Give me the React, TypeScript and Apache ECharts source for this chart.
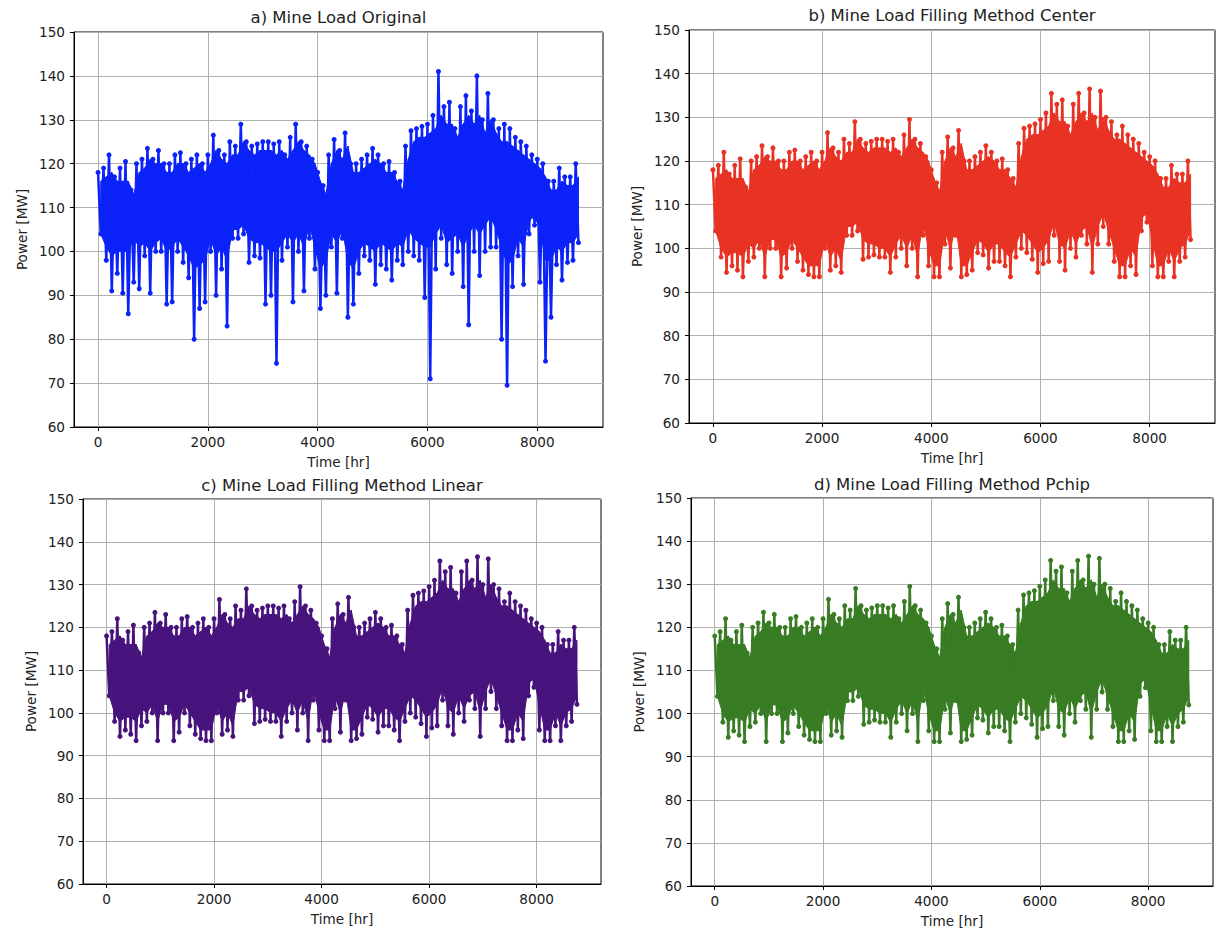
import React, { useEffect, useRef } from "react";
import * as echarts from "echarts";

// Time bins (hours). For every 100 h bin four readings are kept:
// the highest spike, the top of the solid body, the bottom of the solid body and the lowest spike.
const binStep = 100;

// a) original load, highest / lowest reading per bin (0..8700 h)
const originalHigh = [
  118, 119, 122, 117, 119, 120.5, 114, 120, 121, 123.5,
  121, 123, 120, 120, 122, 122.5, 120, 121, 122, 120,
  122, 126.5, 123, 122, 125, 124, 129, 125, 124, 124.5,
  125, 125, 124.5, 125, 122, 126, 129, 125, 124, 121,
  118, 115, 122, 125.5, 123, 127, 120, 120, 121, 122,
  123.5, 122, 120, 120.5, 118, 116, 124, 127.5, 128, 128.5,
  129, 131, 141, 133, 134, 128, 133, 135.5, 132, 140,
  130, 136, 130, 128, 129, 128, 126, 125, 124, 122,
  121, 120, 116, 116, 119, 117, 117, 120,
];
const originalLow = [
  104, 98, 91, 95, 90.5, 85.8, 93, 91.5, 99, 90.5,
  100, 100, 88, 88.5, 100, 97.5, 94, 80, 87, 88.5,
  100, 90, 96, 83, 103, 103, 104, 97.5, 99, 98.5,
  88, 90, 74.5, 98, 101, 88.5, 100, 91, 103, 96,
  87, 90, 101, 90.5, 103, 85, 88, 95, 99, 98,
  92.5, 97, 96, 93.5, 98, 97, 100, 99, 98, 89.5,
  71, 96, 103, 97, 95, 100, 92, 83.3, 100, 94.5,
  100, 101, 101, 80, 69.5, 92, 99, 92.5, 104, 106,
  93, 75, 85, 97, 93.5, 97.5, 98, 102,
];
const originalBodyBottom = [
  104, 101, 99, 100, 100, 100, 103, 101, 102, 100,
  102, 103, 100, 101, 103, 101, 99, 96, 97, 98,
  103, 99, 101, 98, 105, 105, 106, 103, 102, 102,
  101, 100, 100, 102, 104, 102, 104, 101, 106, 101,
  96, 98, 104, 102, 105, 98, 96, 100, 102, 101,
  100, 102, 101, 100, 102, 101, 105, 103, 102, 101,
  101, 104, 106, 102, 103, 104, 101, 104, 106, 104,
  106, 108, 105, 101, 97, 98, 103, 101, 107, 108,
  105, 98, 98, 101, 100, 102, 102, 104,
];

// b), c), d) filled load (the three filling methods look the same at this scale)
const filledHigh = [
  118, 119, 122, 117, 119, 120.5, 114, 120, 121, 123.5,
  121, 123, 120, 120, 122, 122.5, 120, 121, 122, 120,
  122, 126.5, 123, 122, 125, 124, 129, 125, 124, 124.5,
  125, 125, 124.5, 125, 122, 126, 129.5, 125, 124, 121,
  118, 115, 122, 125.5, 123, 127, 120, 120, 121, 122,
  123.5, 122, 120, 120.5, 118, 116, 124, 127.5, 128, 128.5,
  129.5, 131, 135.5, 133, 134, 128, 133, 135.5, 131, 136.5,
  130, 136, 130, 129, 126, 128, 126, 125, 124, 122,
  121, 120, 116, 116, 119, 117, 117, 120,
];
const filledLow = [
  104, 98, 94.5, 96, 95, 93.5, 97, 98, 100, 93.5,
  100, 100, 93.5, 95.5, 100, 97, 95, 94, 93.5, 93.5,
  100, 95, 96, 94.5, 103, 103, 104, 97.5, 98, 98.5,
  98, 98, 94.5, 98, 100, 96, 100, 93.5, 103, 96,
  93.5, 93.5, 101, 95.5, 103, 93.5, 94, 95, 99, 98.5,
  95.5, 97, 97, 96, 93.5, 98, 100, 99, 97.5, 94.5,
  96.5, 97, 103, 97, 95, 100, 98, 103, 101, 94.5,
  101, 105, 101, 97, 93.5, 93.5, 96, 94, 104, 106,
  96, 93.5, 93.5, 97, 93.5, 97, 98, 102,
];
const filledBodyBottom = [
  104, 100, 98, 99, 99, 98, 101, 100, 102, 98,
  102, 102, 98, 99, 102, 100, 98, 96, 96, 96,
  102, 98, 100, 97, 105, 105, 106, 102, 101, 101,
  100, 100, 98, 101, 103, 100, 103, 98, 106, 100,
  96, 96, 104, 100, 105, 96, 96, 99, 102, 101,
  99, 101, 101, 99, 98, 101, 104, 103, 101, 99,
  100, 102, 106, 101, 100, 104, 101, 104, 105, 100,
  105, 108, 104, 100, 96, 96, 100, 98, 107, 108,
  102, 96, 96, 100, 97, 100, 101, 104,
];

// top of the solid body of the trace (same in all four panels)
const bodyTop = [
  116, 117, 118, 116, 116, 116, 113, 118, 119, 121,
  120, 120, 118, 118, 120, 120, 118, 119, 120, 118,
  120, 123, 121, 120, 122, 122, 125, 123, 122, 123,
  123, 123, 122, 123, 121, 123, 125, 123, 122, 120,
  116, 113, 120, 123, 121, 124, 118, 118, 119, 120,
  121, 120, 118, 118, 116, 114, 121, 125, 126, 126,
  127, 128, 131, 129, 129, 126, 129, 131, 129, 131,
  127, 130, 127, 125, 125, 124, 123, 122, 121, 120,
  119, 117, 114, 114, 116, 115, 115, 117,
];

const xTicks = [0, 2000, 4000, 6000, 8000];
const yMin = 60;
const yMax = 150;
const yStep = 10;

const panelTitles = [
  "a) Mine Load Original",
  "b) Mine Load Filling Method Center",
  "c) Mine Load Filling Method Linear",
  "d) Mine Load Filling Method Pchip",
];
const panelColors = ["#0b22f8", "#e83324", "#47137c", "#387c23"];

const FONT = "DejaVu Sans, Verdana, sans-serif";
const TXT = "#222222";

const grids = [
  { left: 74, top: 32, width: 529, height: 395 },
  { left: 689, top: 30, width: 526, height: 393 },
  { left: 83, top: 499, width: 518, height: 385 },
  { left: 691, top: 498, width: 522, height: 388 },
];
const titlePos = [
  [338.5, 17],
  [952, 15],
  [342, 485],
  [952, 484],
];

function zigzag(hi: number[], lo: number[]) {
  const out: number[][] = [];
  hi.forEach((h, i) => {
    out.push([i * binStep, h]);
    out.push([i * binStep + binStep / 2, lo[i]]);
  });
  return out;
}

// one trapezoid per pair of neighbouring bins: [x0, bottom0, top0, x1, bottom1, top1]
function bodyPieces(bottom: number[]) {
  const out: number[][] = [];
  for (let i = 0; i < bodyTop.length - 1; i++) {
    const x0 = i * binStep + binStep / 2;
    const x1 = x0 + binStep;
    out.push([x0, bottom[i], bodyTop[i], x1, bottom[i + 1], bodyTop[i + 1]]);
  }
  return out;
}

export default function App() {
  const ref = useRef<HTMLDivElement>(null);
  useEffect(() => {
    document.body.style.margin = "0";
    const chart = echarts.init(ref.current!, null, { renderer: "svg" });
    const panels = [
      { spikes: zigzag(originalHigh, originalLow), body: bodyPieces(originalBodyBottom) },
      { spikes: zigzag(filledHigh, filledLow), body: bodyPieces(filledBodyBottom) },
      { spikes: zigzag(filledHigh, filledLow), body: bodyPieces(filledBodyBottom) },
      { spikes: zigzag(filledHigh, filledLow), body: bodyPieces(filledBodyBottom) },
    ];
    const xMax = 8759;
    const pad = xMax * 0.05;
    const series: any[] = [];
    panels.forEach((p, i) => {
      const color = panelColors[i];
      series.push({
        type: "custom",
        xAxisIndex: i,
        yAxisIndex: i,
        data: p.body,
        silent: true,
        clip: true,
        encode: { x: [0, 3], y: [1, 2, 4, 5] },
        renderItem: (params: any, api: any) => {
          const a = api.coord([api.value(0), api.value(2)]);
          const b = api.coord([api.value(3), api.value(5)]);
          const c = api.coord([api.value(3), api.value(4)]);
          const e = api.coord([api.value(0), api.value(1)]);
          return {
            type: "polygon",
            shape: { points: [a, b, c, e] },
            style: { fill: color, stroke: color, lineWidth: 1 },
          };
        },
        z: 2,
      });
      series.push({
        type: "line",
        xAxisIndex: i,
        yAxisIndex: i,
        data: p.spikes,
        symbol: "circle",
        symbolSize: 5,
        showSymbol: true,
        silent: true,
        lineStyle: { color, width: 2.5 },
        itemStyle: { color },
        z: 3,
      });
    });
    const option: any = {
      animation: false,
      backgroundColor: "#ffffff",
      grid: grids.map((g) => ({
        ...g,
        show: true,
        borderColor: "#000000",
        borderWidth: 1,
        backgroundColor: "transparent",
        containLabel: false,
      })),
      xAxis: grids.map((_, i) => ({
        type: "value",
        gridIndex: i,
        min: -pad,
        max: xMax + pad,
        axisLine: { show: true, onZero: false, lineStyle: { color: "#000", width: 1 } },
        axisTick: { show: true, inside: false, length: 4, customValues: xTicks, lineStyle: { color: "#000" } },
        axisLabel: {
          customValues: xTicks,
          formatter: (v: number) => String(v),
          color: TXT,
          fontSize: 13.6,
          fontFamily: FONT,
          margin: 8,
        },
        splitLine: { show: true, lineStyle: { color: "#b0b0b0", width: 1 } },
        name: "Time [hr]",
        nameLocation: "middle",
        nameGap: 28,
        nameTextStyle: { color: TXT, fontSize: 13.6, fontFamily: FONT },
      })),
      yAxis: grids.map((_, i) => ({
        type: "value",
        gridIndex: i,
        min: yMin,
        max: yMax,
        interval: yStep,
        axisLine: { show: true, onZero: false, lineStyle: { color: "#000", width: 1 } },
        axisTick: { show: true, inside: false, length: 4, lineStyle: { color: "#000" } },
        axisLabel: { color: TXT, fontSize: 13.6, fontFamily: FONT, margin: 9 },
        splitLine: { show: true, lineStyle: { color: "#b0b0b0", width: 1 } },
        name: "Power [MW]",
        nameLocation: "middle",
        nameGap: 45,
        nameTextStyle: { color: TXT, fontSize: 13.6, fontFamily: FONT },
      })),
      series,
      graphic: panelTitles.map((t, i) => ({
        type: "text",
        x: titlePos[i][0],
        y: titlePos[i][1],
        style: {
          text: t,
          fill: TXT,
          font: `16.5px ${FONT}`,
          textAlign: "center",
          textVerticalAlign: "middle",
        },
      })),
    };
    chart.setOption(option);
    return () => chart.dispose();
  }, []);
  return <div ref={ref} style={{ width: 1217, height: 936 }} />;
}
